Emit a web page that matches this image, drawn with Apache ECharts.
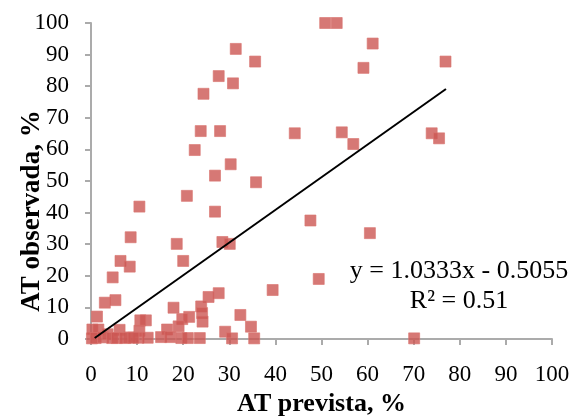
<!DOCTYPE html>
<html>
<head>
<meta charset="utf-8">
<script src="https://cdn.jsdelivr.net/npm/echarts@6/dist/echarts.min.js"></script>
<style>html,body{margin:0;padding:0;background:#fff;}#c{width:573px;height:416px;}</style>
</head>
<body>
<div id="c"></div>
<script>
const xPrevista = [
  31.4, 35.6, 27.7, 30.8, 24.4, 23.8, 28.0, 44.2, 22.5, 30.3, 26.9, 35.8, 20.8,
  50.8, 53.3, 61.1, 59.1, 76.9, 54.4, 56.9, 73.9, 75.5,
  47.6, 60.5, 49.4, 39.4, 34.7, 35.4, 70.1,
  10.5, 26.9, 8.6, 18.6, 28.5, 30.1, 6.4, 8.4, 20.0, 4.7, 3.0, 5.3, 1.3,
  27.7, 25.5, 23.9, 24.1, 24.2, 21.3, 19.8, 17.9, 19.0, 19.6, 21.0, 23.6,
  32.4, 29.1, 30.6,
  11.9, 10.7, 10.5, 6.2, 8.3, 15.2, 16.5, 17.2, 10.3, 12.3,
  0.2, 0.3, 1.6, 1.0, 2.6, 3.6, 4.6, 5.6, 7.4, 9.2
];
const yObservada = [
  91.8, 87.8, 83.2, 80.9, 77.6, 65.8, 65.8, 65.1, 59.8, 55.3, 51.7, 49.6, 45.3,
  100, 100, 93.5, 85.8, 87.8, 65.4, 61.7, 65.1, 63.5,
  37.5, 33.5, 19.0, 15.5, 3.9, 0.2, 0.2,
  41.9, 40.3, 32.2, 30.1, 30.7, 30.1, 24.7, 22.9, 24.7, 19.5, 11.5, 12.3, 7.1,
  14.5, 13.3, 10.3, 8.2, 5.5, 7.0, 6.3, 9.9, 4.0, 0.3, 0.3, 0.3,
  7.6, 2.3, 0.2,
  5.9, 5.9, 2.6, 2.9, 0.5, 0.6, 3.0, 0.6, 0.4, 0.4,
  0.2, 3.0, 3.0, 0.3, 0.5, 1.5, 0.3, 0.3, 0.3, 0.4
];
// Linear trend line endpoints (as drawn)
const trendX = [0.8, 77.0];
const trendY = [0.3, 79.1];
const axisTicks = [0, 10, 20, 30, 40, 50, 60, 70, 80, 90, 100];
const eqText = 'y = 1.0333x - 0.5055';
const r2Text = 'R² = 0.51';
const xTitle = 'AT prevista, %';
const yTitle = 'AT observada, %';

const FONT = '"Liberation Serif", "Times New Roman", serif';
const pts = xPrevista.map((x, i) => [x, yObservada[i]]);
const trend = trendX.map((x, i) => [x, trendY[i]]);

const chart = echarts.init(document.getElementById('c'), null, {renderer: 'canvas'});
const axisCommon = {
  type: 'value', min: axisTicks[0], max: axisTicks[axisTicks.length - 1], interval: 10,
  splitLine: {show: false},
  axisLine: {show: true, lineStyle: {color: '#ABABAB', width: 2}},
  axisTick: {show: true, inside: false, length: 6, lineStyle: {color: '#ABABAB', width: 2}},
  axisLabel: {color: '#000', fontFamily: FONT, fontSize: 23}
};
chart.setOption({
  animation: false,
  backgroundColor: '#fff',
  grid: {left: 91, right: 21, top: 23, bottom: 77, containLabel: false, outerBoundsMode: 'none'},
  xAxis: Object.assign({}, axisCommon, {
    axisLabel: Object.assign({}, axisCommon.axisLabel, {margin: 24}),
    name: xTitle, nameLocation: 'middle', nameGap: 50,
    nameTextStyle: {color: '#000', fontFamily: FONT, fontSize: 26, fontWeight: 'bold'}
  }),
  yAxis: Object.assign({}, axisCommon, {
    axisLabel: Object.assign({}, axisCommon.axisLabel, {margin: 22})
  }),
  graphic: [
    {type: 'text', x: 32, y: 211, rotation: Math.PI / 2,
     style: {text: yTitle, font: 'bold 27px ' + FONT, fill: '#000', align: 'center', verticalAlign: 'middle'}},
    {type: 'text', x: 459, y: 271,
     style: {text: eqText, font: '26px ' + FONT, fill: '#000', align: 'center', verticalAlign: 'middle'}},
    {type: 'text', x: 459, y: 301,
     style: {text: r2Text, font: '26px ' + FONT, fill: '#000', align: 'center', verticalAlign: 'middle'}}
  ],
  series: [
    {type: 'scatter', data: pts, symbol: 'rect', symbolSize: 11,
     itemStyle: {color: '#CC5652', borderColor: '#D9746F', borderWidth: 0.8}, z: 2},
    {type: 'line', data: trend, symbol: 'none', lineStyle: {color: '#000', width: 2}, z: 3}
  ]
});
</script>
</body>
</html>
